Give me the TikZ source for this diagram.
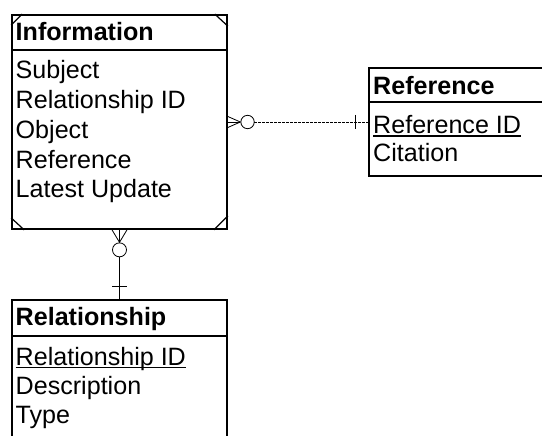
\documentclass[tikz,border=0pt]{standalone}
\usepackage{fontspec}
\setmainfont{Liberation Sans}
\usetikzlibrary{calc}
\begin{document}
\begin{tikzpicture}[x=1pt,y=-1pt,
  entity/.style={draw, line width=1.7pt, inner sep=0pt, rectangle},
  attr/.style={anchor=base west, inner sep=0pt, font=\fontsize{25.1}{25}\selectfont},
  hdr/.style={attr, font=\fontsize{25.1}{25}\selectfont\bfseries},
  sep/.style={line width=1.7pt},
  corner/.style={line width=1.2pt},
  link/.style={line width=0.8pt},
  optional/.style={link, dash pattern=on 2.4pt off 1.6pt},
]
\clip (0,0) rectangle (542,436);
\fill[white] (0,0) rectangle (542,436);

% entities
\node[entity, minimum width=215pt, minimum height=214pt] (info) at (119.5,122) {};
\node[entity, minimum width=215pt, minimum height=150pt] (rel) at (119.5,375) {};
\node[entity, minimum width=200pt, minimum height=108pt] (ref) at (469,122) {};

% dependent-entity corner marks
\draw[corner] ($(info.north west)+(0,11)$) -- ++(11,-11);
\draw[corner] ($(info.north east)+(-13,0)$) -- ++(13,12);
\draw[corner] ($(info.south west)+(0,-12)$) -- ++(13,12);
\draw[corner] ($(info.south east)+(-14,0)$) -- ++(14,-14);

% header separators
\draw[sep] ($(info.north west)+(0,36)$) -- ($(info.north east)+(0,36)$);
\draw[sep] ($(rel.north west)+(0,36.5)$) -- ($(rel.north east)+(0,36.5)$);
\draw[sep] ($(ref.north west)+(0,35)$) -- ($(ref.north east)+(0,35)$);

% Information
\node[hdr] (infoT) at (15.5,40.7) {Information};
\node[attr] (iSubj) at (15.5,79) {Subject};
\node[attr] (iRel) at (15.5,108.8) {Relationship ID};
\node[attr] (iObj) at (15.5,138.5) {Object};
\node[attr] (iRef) at (15.5,168.2) {Reference};
\node[attr] (iUpd) at (15.5,197.7) {Latest Update};

% Reference
\node[hdr] (refT) at (373,94.3) {Reference};
\node[attr] (refId) at (373,133.3) {Reference ID};
\node[attr] (refCit) at (373,161.7) {Citation};
\draw[line width=1.3pt] ($(refId.base west)+(0,2.8)$) -- ($(refId.base east)+(0,2.8)$);

% Relationship
\node[hdr] (relT) at (15.5,325) {Relationship};
\node[attr] (relId) at (15.5,365) {Relationship ID};
\node[attr] (relDesc) at (15.5,394.5) {Description};
\node[attr] (relType) at (15.5,423.3) {Type};
\draw[line width=1.3pt] ($(relId.base west)+(0,2.8)$) -- ($(relId.base east)+(0,2.8)$);

% Information >o - - - -| Reference
\coordinate (hTip) at ($(info.east)+(12.5,0)$);
\coordinate (hCirc) at ($(info.east)+(19.7,0)$);
\draw[link] ($(info.east)+(0,-5.5)$) -- (hTip) -- ($(info.east)+(0,5.5)$);
\draw[link] (info.east) -- (hTip);
\draw[link] (hCirc) circle (6.7pt);
\draw[optional] ($(hCirc)+(6.7,0)$) -- (ref.west);
\draw[link] ($(ref.west)+(-13,-7)$) -- ($(ref.west)+(-13,7)$);

% Information >o-----| Relationship
\coordinate (vTip) at ($(info.south)+(0,12.5)$);
\coordinate (vCirc) at ($(info.south)+(0,20)$);
\draw[link] ($(info.south)+(-7.5,0)$) -- (vTip) -- ($(info.south)+(7.5,0)$);
\draw[link] (info.south) -- (vTip);
\draw[link] (vCirc) circle (7pt);
\draw[link] ($(vCirc)+(0,7)$) -- (rel.north);
\draw[link] ($(rel.north)+(-7.5,-12.5)$) -- ($(rel.north)+(7.5,-12.5)$);
\end{tikzpicture}
\end{document}
